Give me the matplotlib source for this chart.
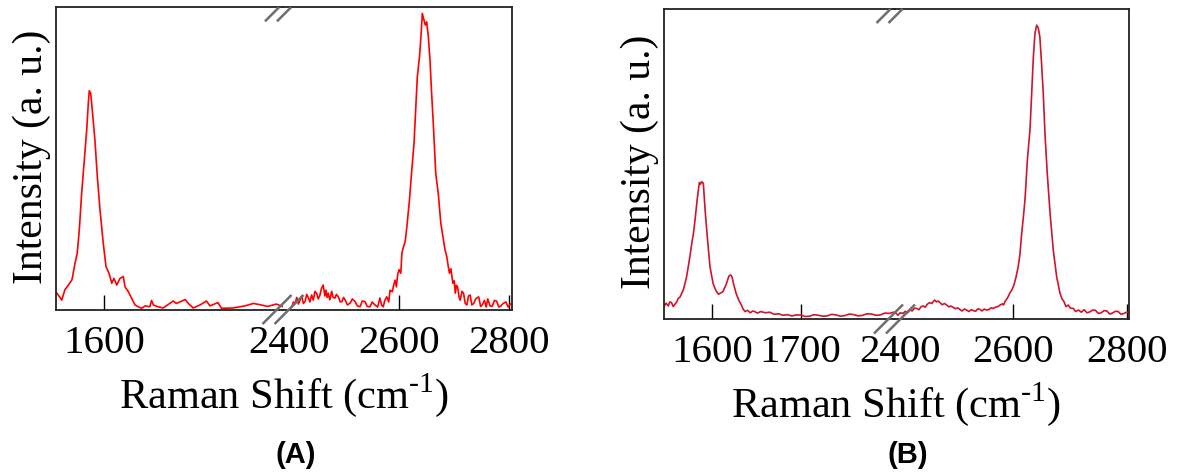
import matplotlib
matplotlib.use('Agg')
import matplotlib.pyplot as plt
from matplotlib.lines import Line2D

plt.rcParams['font.family'] = ['Liberation Serif', 'DejaVu Serif']
plt.rcParams['mathtext.fontset'] = 'custom'
plt.rcParams['mathtext.rm'] = 'Liberation Serif'

# ---- data (intensity in a.u., 0..100 of the box height) ----
a_left_x = [1547, 1550.5, 1552.5, 1556, 1560, 1564, 1567.5, 1570, 1572.3, 1575, 1578, 1580.7,
            1582.5, 1583.6, 1585.2, 1587, 1590, 1592.7, 1595.7, 1599.4, 1602.5, 1605.9, 1609,
            1611.5, 1614.6, 1618.3, 1622, 1624, 1627.7, 1631.5, 1635.3, 1639, 1642.8, 1646.6,
            1652, 1654, 1656, 1660, 1667, 1678.5, 1682, 1686, 1692, 1695.5, 1701, 1708.7, 1716,
            1720, 1729, 1733, 1746, 1759.6, 1769, 1778, 1785, 1795, 1802]
a_left_y = [5.4, 4.0, 3.1, 6.5, 8.1, 9.8, 15.3, 18.6, 26.3, 38.5, 49.5, 59.4,
            68.2, 72.4, 71.5, 66, 56, 44, 33, 21.9, 14.2, 12, 8.7,
            10.3, 8.1, 10.3, 10.9, 7.5, 5.9, 3.7, 1.5, 0.9, 0.4, 1.2,
            0.9, 3.0, 1.5, 1.0, 0.5, 2.8, 2.0, 2.5, 3.3, 2.0, 0.5, 1.5, 2.8,
            1.2, 2.3, 0.4, 0.5, 1.2, 2.0, 1.5, 1.0, 1.8, 1.0]

a_right_x = [2406, 2409, 2412, 2415, 2418, 2421, 2424, 2427, 2430, 2433, 2436, 2439, 2442, 2445,
             2448, 2451, 2454, 2457, 2460, 2463, 2466, 2468, 2470, 2472, 2475, 2478.5, 2481,
             2484.5, 2487, 2490.5, 2494, 2497, 2500, 2503, 2507, 2512, 2516, 2521, 2525, 2530,
             2534, 2539, 2543, 2548, 2552, 2557, 2562, 2566, 2569, 2572, 2575, 2578.5, 2582,
             2584.5, 2588.7, 2591, 2593.6, 2596, 2598.4, 2601, 2604, 2606, 2609, 2612, 2615,
             2619.7, 2624, 2628, 2631, 2634, 2638, 2641, 2643, 2646, 2648.5, 2651, 2654, 2657,
             2660, 2663, 2667.5, 2672, 2676.7, 2681.5, 2684, 2687.5, 2690, 2692.4, 2695, 2698.5,
             2701, 2703, 2705, 2707, 2710, 2712, 2715, 2718, 2721, 2724, 2727, 2730, 2733,
             2736.5, 2740, 2745.5, 2749, 2752, 2756, 2759, 2762, 2766, 2770, 2774, 2778, 2782,
             2786, 2790, 2795, 2799, 2803]
a_right_y = [0.9, 2.5, 2.1, 4.0, 1.8, 3.1, 4.5, 2.0, 2.6, 5.0, 3.9, 2.5, 4.8, 3.1,
             6.0, 5.4, 3.5, 4.7, 7.0, 8.1, 4.5, 6.4, 4.0, 5.4, 3.2, 6.0, 4.0,
             3.8, 5.0, 4.2, 2.5, 2.6, 4.0, 3.1, 1.5, 2.1, 3.5, 2.6, 1.2, 0.9,
             2.8, 2.6, 1.0, 0.9, 2.5, 1.5, 0.8, 3.8, 1.5, 0.9, 3.0, 4.2, 2.5,
             6.4, 5.9, 8.0, 9.7, 7.5, 11.6, 13.2, 12.0, 18.7, 20.8, 22.5, 27.4,
             36.2, 46.2, 55, 66, 77, 83.7, 91.4, 98, 95.8, 94.1, 95.2, 90.3, 82.6,
             71.5, 61.6, 45, 38.5, 28.5, 23, 20, 17.5, 14.5, 12, 13.5, 8.7,
             9.5, 5.4, 8.0, 7.5, 4.0, 3.1, 6.0, 5.4, 2.0, 1.5, 4.5, 4.8, 1.5,
             2.0, 3.5, 4.2, 1.0, 1.5, 3.0, 0.8, 3.5, 1.2, 1.0, 3.0, 2.8, 0.8,
             1.2, 2.0, 2.5, 0.8, 1.8]

b_left_x = [1545.6, 1548, 1550.5, 1552, 1554, 1556, 1558, 1560, 1561.7, 1563.5, 1565.6, 1567.5,
            1569.3, 1571, 1573, 1575, 1577, 1579, 1580.6, 1583, 1585.5, 1587, 1588, 1590, 1592,
            1594.5, 1597.5, 1601, 1603, 1605, 1607, 1609, 1612, 1615.6, 1619, 1621, 1622.5,
            1624, 1627, 1630, 1633, 1635, 1637, 1640, 1643, 1646, 1648, 1651, 1655, 1660, 1665,
            1670, 1675, 1680, 1685, 1690, 1695, 1700, 1705, 1710, 1715, 1720, 1725, 1730, 1735,
            1740, 1745, 1750, 1755, 1760, 1765, 1770, 1775, 1780, 1785, 1790, 1795, 1800, 1805]
b_left_y = [4.0, 5.1, 4.2, 5.5, 5.3, 4.0, 4.8, 5.5, 6.7, 7.0, 8.3, 9.5,
            11.5, 13.5, 16.9, 20.5, 24.4, 28.0, 31.9, 38.4, 44, 43.5, 44.3, 43.8, 35.2,
            26.5, 16.9, 11.5, 10.0, 8.8, 8.0, 8.3, 8.8, 11, 13.9, 14.2, 13.5,
            11.5, 8.3, 6.1, 4.5, 3.2, 2.4, 2.8, 2.0, 2.6, 2.4, 1.9, 2.4, 2.0, 2.2,
            1.5, 1.7, 1.2, 1.4, 1.0, 1.3, 1.3, 0.8, 0.9, 1.4, 1.2, 0.9, 1.0, 1.5,
            1.3, 0.9, 1.1, 1.6, 1.4, 1.0, 1.2, 1.7, 1.6, 1.2, 1.3, 1.9, 1.8, 2.2]

b_right_x = [2393, 2397, 2401, 2406, 2410, 2414, 2418, 2422, 2426, 2430, 2434, 2438, 2441.6,
             2445, 2449, 2453, 2457, 2460, 2462, 2465, 2468, 2471, 2475, 2479, 2483, 2487,
             2490, 2494, 2498, 2502, 2506, 2510, 2514, 2518, 2522, 2526, 2530, 2534, 2538,
             2541.5, 2545, 2549, 2553, 2557, 2561, 2565, 2569, 2573, 2577, 2581, 2583, 2585.5,
             2590, 2594, 2598, 2601.4, 2605, 2609, 2612, 2615, 2618, 2620.8, 2625, 2629.6,
             2632.6, 2635.6, 2638.4, 2641.4, 2644.3, 2647, 2650, 2653, 2656, 2660, 2665,
             2670.6, 2676.6, 2680, 2682.5, 2686, 2689.5, 2693, 2697, 2701, 2706, 2710, 2715,
             2720, 2725, 2730, 2735, 2740, 2745, 2750, 2755, 2760, 2765, 2770, 2775, 2780,
             2785, 2790, 2795, 2800, 2804]
b_right_y = [2.0, 1.2, 2.0, 1.8, 2.5, 2.0, 2.9, 2.6, 3.5, 3.4, 3.0, 4.0, 4.2,
             3.8, 4.8, 5.3, 5.0, 5.8, 6.1, 5.5, 5.8, 5.3, 4.6, 5.0, 4.5, 3.9,
             4.2, 3.8, 3.3, 3.6, 3.1, 2.6, 3.2, 2.9, 2.4, 3.0, 2.7, 2.5, 3.3,
             3.1, 2.6, 3.2, 2.9, 3.0, 3.6, 3.4, 3.8, 4.0, 4.5, 4.9, 4.5, 5.6,
             6.8, 8.3, 9.5, 11.0, 13.5, 17, 21, 27.6, 33, 38.4, 51.3, 61,
             72.8, 84.6, 92.2, 94.8, 93.8, 91, 82.5, 72.8, 59.9, 47, 34.1,
             22.3, 13.6, 10.5, 8.3, 6.5, 5.6, 4.0, 4.5, 3.5, 3.4, 2.4, 2.9,
             2.2, 3.0, 2.0, 2.3, 2.9, 2.8, 1.8, 2.0, 2.7, 2.6, 1.6, 1.9, 2.5,
             2.4, 1.5, 1.8, 2.2, 2.1]

a_left_ticks = [1600]
b_left_ticks = [1600, 1700]
right_ticks = [2400, 2600, 2800]

W, H = 1179, 475


def box(x0, x1, ytop, ybot):
    return [x0 / W, 1 - ybot / H, (x1 - x0) / W, (ybot - ytop) / H]


def slash(fig, x0, y0, x1, y1):
    fig.add_artist(Line2D([x0 / W, x1 / W], [1 - y0 / H, 1 - y1 / H],
                          color='#6e6e6e', lw=1.8, solid_capstyle='butt'))


def panel(fig, x0, xb, x1, ytop, ybot, llim, rlim, lticks, lx, ly, rx, ry, color, tag):
    axl = fig.add_axes(box(x0, xb, ytop, ybot))
    axr = fig.add_axes(box(xb, x1, ytop, ybot))
    for ax, lim, ticks, xs, ys in ((axl, llim, lticks, lx, ly), (axr, rlim, right_ticks, rx, ry)):
        ax.plot(xs, ys, color=color, lw=1.2)
        ax.set_xlim(*lim)
        ax.set_ylim(0, 100)
        ax.set_xticks(ticks)
        ax.set_yticks([])
        ax.tick_params(axis='x', direction='in', length=11, width=1.0, pad=11, labelsize=29.5)
        for s in ax.spines.values():
            s.set_linewidth(1.3)
            s.set_color('#222222')
    axl.spines['right'].set_visible(False)
    axr.spines['left'].set_visible(False)
    axr.xaxis.get_major_ticks()[0].tick1line.set_visible(False)

    # break marks
    for dx in (-6, 6):
        c = xb + dx
        slash(fig, c - 14.5, ybot + 14.5, c + 14.5, ybot - 14.5)
    for dx in (-4, 8):
        c = xb + dx
        slash(fig, c - 14, ytop + 14, c, ytop)

    cx = (x0 + x1) / 2
    fig.text(cx / W, 1 - (ybot + 98) / H, r'Raman Shift (cm$^{\text{-1}}$)', ha='center',
             va='baseline', fontsize=30.5)
    fig.text((x0 - 24) / W, 1 - ((ytop + ybot) / 2 - 2) / H, 'Intensity (a. u.)', rotation=90,
             ha='center', va='center', fontsize=30)
    fig.text((cx + 12) / W, 1 - 455 / H, tag, ha='center', va='center', fontsize=21,
             fontweight='bold', family=['Liberation Sans', 'DejaVu Sans'])


fig = plt.figure(figsize=(W / 100, H / 100), dpi=100)

panel(fig, 56, 283, 512, 7.3, 309.5, (1546, 1802.5), (2390, 2806), a_left_ticks,
      a_left_x, a_left_y, a_right_x, a_right_y, '#ff0000', '(A)')
panel(fig, 663.5, 894.5, 1129, 9, 319, (1545, 1806), (2391, 2804), b_left_ticks,
      b_left_x, b_left_y, b_right_x, b_right_y, '#d0142c', '(B)')

fig.savefig('out.png', dpi=100)
